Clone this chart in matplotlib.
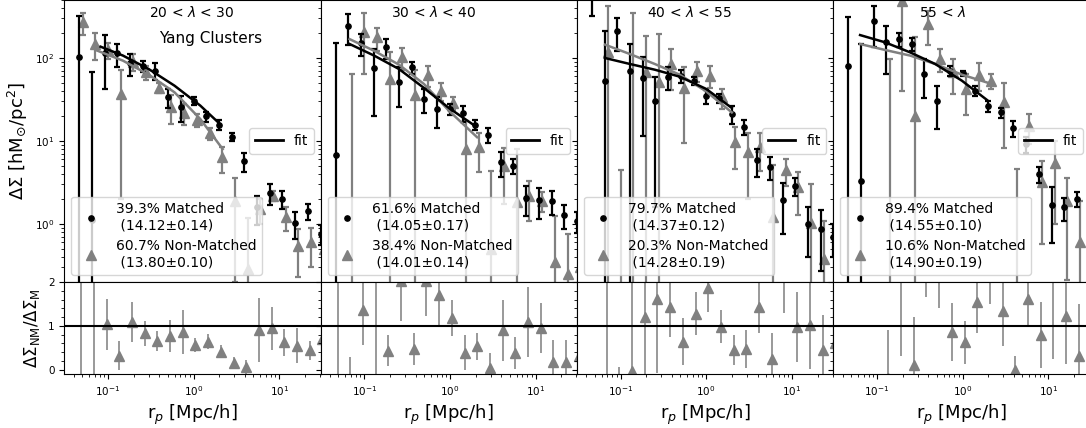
import numpy as np
import matplotlib
matplotlib.use("Agg")
import matplotlib.pyplot as plt
from matplotlib.lines import Line2D
from matplotlib.ticker import MultipleLocator, AutoMinorLocator

nan = np.nan

# projected radius of each radial bin [Mpc/h]
r_p = [0.0488, 0.0687, 0.0966, 0.1358, 0.191, 0.269, 0.378, 0.532, 0.750, 1.054,
       1.483, 2.089, 2.938, 4.13, 5.82, 8.19, 11.51, 16.18, 22.8, 32.06]

panel_titles = [r"20 < $\lambda$ < 30", r"30 < $\lambda$ < 40",
                r"40 < $\lambda$ < 55", r"55 < $\lambda$"]

matched_labels = ["39.3% Matched\n (14.12±0.14)", "61.6% Matched\n (14.05±0.17)",
                  "79.7% Matched\n (14.37±0.12)", "89.4% Matched\n (14.55±0.10)"]
nonmatched_labels = ["60.7% Non-Matched\n (13.80±0.10)", "38.4% Non-Matched\n (14.01±0.14)",
                     "20.3% Non-Matched\n (14.28±0.19)", "10.6% Non-Matched\n (14.90±0.19)"]

# Delta Sigma of matched clusters [h Msun / pc^2]
ds_m_1 = [104, 1.13, 115, 114, 86, 80, 70, 33.6, 26, 30.6, 19.8, 15.7, 11.3, 5.69, 1.58, 2.34, 2.0, 1.02, 1.42, 0.76]
ds_m_err_1 = [220, 66, 73, 35, 26, 12, 16, 8.5, 9, 3.5, 2.7, 2.0, 1.3, 1.5, 0.6, 0.66, 0.5, 0.36, 0.3, 0.2]
ds_m_2 = [6.8, 241, 150, 75, 134, 52, 77, 31.8, 24.3, 24.3, 21.5, 15.7, 11.9, 5.53, 5.05, 2.06, 1.94, 1.88, 1.28, 1.08]
ds_m_err_2 = [143, 97, 45, 55, 36, 26, 12, 10, 10, 4, 4.6, 2, 2.4, 1.8, 1.0, 0.8, 0.8, 0.6, 0.4, 0.3]
ds_m_3 = [700, 52.4, 213, 69, 57.4, 30.6, 59.6, 61.2, 53.3, 34.5, 33, 21.1, 14.9, 5.9, 4.9, 1.96, 2.9, 1.0, 0.87, 0.7]
ds_m_err_3 = [375, 161, 90, 78, 46, 29, 19, 11, 6, 6.7, 4, 5, 3, 2.2, 1.5, 1.2, 0.7, 0.6, 0.6, 0.3]
ds_m_4 = [81, 3.33, 281, 154.5, 169, 147, 65, 30, 70.3, 65.3, 40.4, 26.4, 22.1, 14.2, 9.2, 4.0, 1.69, 1.58, 2.0, 1.5]
ds_m_err_4 = [228, 144, 147, 90, 32, 25, 32, 16, 9, 5, 6, 4, 3, 3, 2, 0.9, 1.1, 0.5, 0.4, 0.4]

# Delta Sigma of non-matched clusters
ds_nm_1 = [268, 147, 125, 37, 90, 67, 43.5, 26, 21.7, 17.9, 12.4, 6.35, 1.9, 0.29, 1.5, 2.19, 1.22, 0.55, 0.6, 0.5]
ds_nm_err_1 = [80, 53, 27, 35, 21, 13, 6, 10, 6, 3, 2, 2.2, 1.7, 0.9, 0.5, 0.3, 0.4, 0.32, 0.3, 0.3]
ds_nm_2 = [nan, 0.1, 204, 177, 56, 102, 36, 63, 40, 28.5, 7.9, 8.4, 0.5, 4.95, 1.82, 2.19, 1.91, 0.345, 0.25, 0.3]
ds_nm_err_2 = [nan, 64, 140, 55, 63, 30, 36, 18, 10, 5, 9.7, 4.2, 3.9, 3.2, 6.2, 1.1, 0.5, 0.9, 0.5, 0.3]
ds_nm_3 = [nan, 117, 0.1, 0.1, 67, 51, 84.7, 43.5, 70.3, 61.2, 33.6, 9.6, 7.3, 8.4, 1.2, 4.5, 2.77, 1.02, 0.38, 0.5]
ds_nm_err_3 = [nan, 310, 4.4, 345, 119, 143, 43, 34, 19, 18, 9, 5, 5.3, 4, 4, 1.6, 1.5, 2, 0.7, 0.5]
ds_nm_4 = [nan, nan, nan, 0.1, 480, 20.2, 257, 97, 67, 42.4, 63, 53.3, 29.2, 0.1, 15.3, 3.18, 5.5, 1.91, 0.6, 0.5]
ds_nm_err_4 = [nan, nan, nan, 97, 440, 157, 115, 30, 30, 22, 23, 11, 21, 4.5, 6, 2.6, 4.5, 1.7, 1.3, 0.5]

# ratio Delta Sigma_NM / Delta Sigma_M
ratio_1 = [2.6, 130, 1.03, 0.32, 1.09, 0.83, 0.65, 0.77, 0.86, 0.56, 0.64, 0.41, 0.15, 0.06, 0.9, 0.94, 0.62, 0.54, 0.44, 0.71]
ratio_err_1 = [5, 500, 0.58, 0.33, 0.45, 0.29, 0.22, 0.36, 0.5, 0.16, 0.17, 0.15, 0.13, 0.15, 0.73, 0.5, 0.3, 0.4, 0.22, 0.3]
ratio_2 = [-0.5, -0.6, 1.37, 2.4, 0.43, 2.02, 0.47, 2.02, 1.71, 1.18, 0.38, 0.53, 0.04, 0.9, 0.38, 1.08, 0.95, 0.17, 0.17, 0.3]
ratio_err_2 = [3, 0.88, 0.8, 2.6, 0.35, 0.9, 0.36, 0.8, 0.7, 0.42, 0.4, 0.3, 0.35, 0.7, 0.36, 0.8, 0.56, 0.5, 0.5, 0.5]
ratio_3 = [nan, 2.2, -0.25, -0.03, 1.2, 1.62, 1.44, 0.64, 1.28, 1.86, 0.98, 0.45, 0.47, 1.44, 0.24, 2.3, 0.98, 1.02, 0.45, 0.6]
ratio_err_3 = [nan, 3, 0.32, 2.5, 1.5, 1.7, 0.7, 0.53, 0.5, 0.55, 0.37, 0.35, 0.43, 0.6, 0.6, 1.0, 0.8, 1.0, 0.8, 0.6]
ratio_4 = [nan, nan, nan, -0.2, 2.9, 0.11, 3.95, 3.2, 0.86, 0.62, 1.54, 2.5, 1.34, 0.0, 1.62, 0.79, 3.25, 1.22, 0.3, 0.5]
ratio_err_4 = [nan, nan, nan, 1.1, 2.6, 1.1, 2.3, 1.8, 0.66, 0.5, 0.7, 1.0, 0.8, 0.32, 0.6, 0.75, 3.0, 1.1, 1.2, 0.5]

# best-fit profiles (sampled)
fit_r_m_1 = [0.0822, 0.15, 0.30, 0.60, 1.2, 2.0]
fit_m_1 = [137, 107, 73.6, 46.4, 26.7, 16.3]
fit_r_nm_1 = [0.0718, 0.15, 0.30, 0.60, 1.2, 2.19]
fit_nm_1 = [125, 92.9, 63, 38.6, 18.4, 8.0]
fit_r_m_2 = [0.0675, 0.131, 0.255, 0.499, 0.974, 1.95]
fit_m_2 = [147.5, 106.7, 73.6, 43.5, 25.0, 15.3]
fit_r_nm_2 = [0.0675, 0.131, 0.255, 0.499, 0.974, 2.08]
fit_nm_2 = [169, 122, 83, 48.6, 23.2, 11.1]
fit_r_m_3 = [0.0658, 0.1285, 0.251, 0.49, 1.0, 1.99]
fit_m_3 = [100, 84.7, 72.3, 59.6, 42.4, 25.0]
fit_r_nm_3 = [0.0658, 0.1285, 0.251, 0.49, 1.0, 1.99]
fit_nm_3 = [144.8, 111.7, 84.7, 63, 39.6, 22.1]
fit_r_m_4 = [0.0636, 0.1246, 0.244, 0.479, 0.982, 1.93]
fit_m_4 = [189, 154.5, 117, 84.7, 53.3, 31.2]
fit_r_nm_4 = [0.0636, 0.1246, 0.244, 0.479, 0.982, 2.2]
fit_nm_4 = [147.5, 125, 107, 84.7, 63, 48.6]

panels = [
    (ds_m_1, ds_m_err_1, ds_nm_1, ds_nm_err_1, ratio_1, ratio_err_1, fit_r_m_1, fit_m_1, fit_r_nm_1, fit_nm_1),
    (ds_m_2, ds_m_err_2, ds_nm_2, ds_nm_err_2, ratio_2, ratio_err_2, fit_r_m_2, fit_m_2, fit_r_nm_2, fit_nm_2),
    (ds_m_3, ds_m_err_3, ds_nm_3, ds_nm_err_3, ratio_3, ratio_err_3, fit_r_m_3, fit_m_3, fit_r_nm_3, fit_nm_3),
    (ds_m_4, ds_m_err_4, ds_nm_4, ds_nm_err_4, ratio_4, ratio_err_4, fit_r_m_4, fit_m_4, fit_r_nm_4, fit_nm_4),
]
title_x = [0.498, 0.44, 0.4375, 0.425]

GRAY = "0.5"
DOT_MS = 3.8
TRI_MS = 7.5
r = np.array(r_p)

fig = plt.figure(figsize=(10.86, 4.28), dpi=100)
gs = fig.add_gridspec(2, 4, height_ratios=[282, 92], left=0.0592, right=1.0034,
                      top=1.0, bottom=0.1262, wspace=0, hspace=0)

top0 = None
for i, (m, me, nm, nme, rt, rte, frm, fm, frn, fn) in enumerate(panels):
    ax = fig.add_subplot(gs[0, i], sharey=top0)
    if top0 is None:
        top0 = ax
    axr = fig.add_subplot(gs[1, i], sharex=ax)

    ax.set_xscale("log")
    ax.set_yscale("log")
    ax.set_xlim(0.031, 30.5)
    ax.set_ylim(0.2, 500)

    ax.errorbar(r * 0.95, m, yerr=me, fmt="o", color="k", ms=DOT_MS,
                elinewidth=1.6, capsize=2.5, capthick=1.6, zorder=3)
    ax.errorbar(r * 1.037, nm, yerr=nme, fmt="^", color=GRAY, ms=TRI_MS,
                elinewidth=1.6, capsize=2.5, capthick=1.6, zorder=2)
    ax.plot(frn, fn, color=GRAY, lw=1.8, zorder=4)
    ax.plot(frm, fm, color="k", lw=1.8, zorder=5)

    ax.text(title_x[i], 0.954, panel_titles[i], transform=ax.transAxes,
            ha="center", va="center", fontsize=10)
    if i == 0:
        ax.text(0.572, 0.865, "Yang Clusters", transform=ax.transAxes,
                ha="center", va="center", fontsize=11)

    handles = [Line2D([], [], marker="o", color="k", ls="none", ms=DOT_MS),
               Line2D([], [], marker="^", color=GRAY, ls="none", ms=TRI_MS)]
    leg1 = ax.legend(handles, [matched_labels[i], nonmatched_labels[i]],
                     loc="lower left", fontsize=10)
    ax.add_artist(leg1)
    ax.legend([Line2D([], [], color="k", lw=2)], ["fit"], loc="center right", fontsize=10)

    ax.tick_params(axis="x", which="both", bottom=False, labelbottom=False)
    ax.tick_params(axis="y", which="both", labelsize=7.5)
    if i > 0:
        ax.tick_params(axis="y", which="both", labelleft=False)

    # ratio panel
    axr.errorbar(r, rt, yerr=rte, fmt="^", color=GRAY, ecolor="0.6", ms=TRI_MS,
                 elinewidth=1.4, capsize=0, zorder=2)
    axr.axhline(1, color="k", lw=1.5, zorder=3)
    axr.set_ylim(-0.1, 2)
    axr.yaxis.set_major_locator(MultipleLocator(1))
    axr.yaxis.set_minor_locator(AutoMinorLocator(5))
    axr.tick_params(axis="both", which="both", labelsize=7.5)
    if i > 0:
        axr.tick_params(axis="y", which="both", labelleft=False)
    axr.set_xlabel(r"r$_p$ [Mpc/h]", fontsize=13)

    if i == 0:
        ax.set_ylabel(r"$\Delta\Sigma$ [hM$_{\odot}$/pc$^2$]", fontsize=13)
        axr.set_ylabel(r"$\Delta\Sigma_{\rm NM}/\Delta\Sigma_{\rm M}$", fontsize=12)

fig.savefig("out.png", dpi=100)
